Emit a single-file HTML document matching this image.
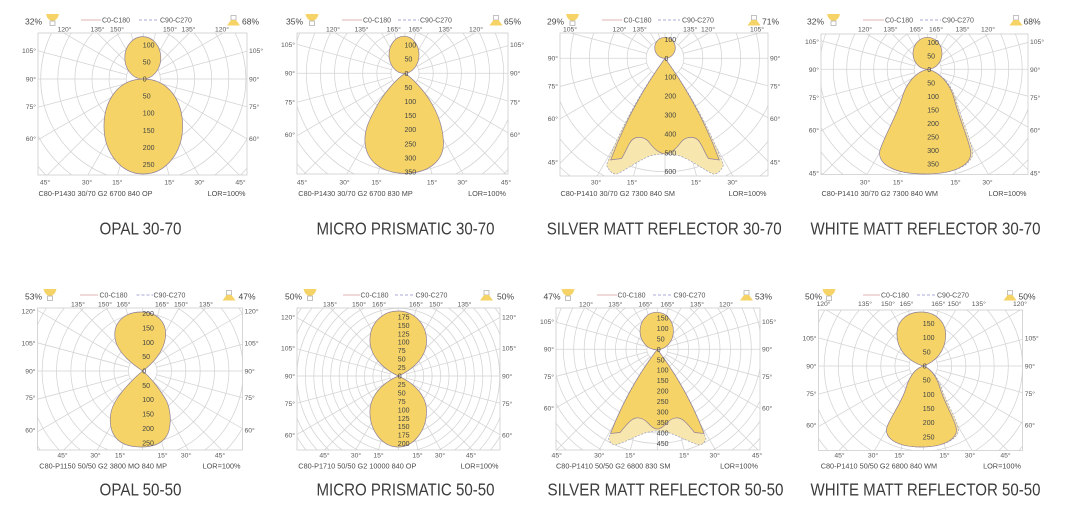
<!DOCTYPE html>
<html><head><meta charset="utf-8">
<style>
html,body{margin:0;padding:0;background:#fff;width:1069px;height:509px;overflow:hidden}
svg{display:block}
text{font-family:"Liberation Sans",Arial,sans-serif}
.k{font-size:6.8px;fill:#5a5a5a}
.e{text-anchor:end}
.m{text-anchor:middle}
.r{font-size:7px;fill:#444}
.c{font-size:7.3px;fill:#4a4a4a}
.g{font-size:7px;fill:#555}
.p{font-size:8.5px;fill:#444}
.ti{font-size:17.5px;fill:#3c3c3c;text-anchor:middle}
.L{fill:#f5d366;stroke:#8f7f9a;stroke-width:.7}
.P{fill:#f7e6ad;stroke:#8c93c2;stroke-width:.6;stroke-dasharray:2 1.5}
.bx{fill:none;stroke:#cdcdcd;stroke-width:.8}
.l1{stroke:#d49a9a;stroke-width:.8}
.l2{stroke:#8f90c8;stroke-width:.8;stroke-dasharray:3 2}
.ic{fill:#f5d366}
.sq{fill:#fff;stroke:#999;stroke-width:.6}
</style></head><body>
<svg width="1069" height="509" viewBox="0 0 1069 509" xmlns="http://www.w3.org/2000/svg">
<rect width="1069" height="509" fill="#fff"/>
<defs>
<g id="cr9" fill="none"><circle r="1"/><circle r="2"/><circle r="3"/><circle r="4"/><circle r="5"/><circle r="6"/><circle r="7"/><circle r="8"/><circle r="9"/></g>
<g id="cr13" fill="none"><use href="#cr9"/><circle r="10"/><circle r="11"/><circle r="12"/><circle r="13"/></g>
<g id="cr14" fill="none"><use href="#cr13"/><circle r="14"/></g>
<g id="cr16" fill="none"><use href="#cr14"/><circle r="15"/><circle r="16"/></g>
<g id="s20" fill="none">
<path d="M0,1V20M0,-1V-20"/><path d="M0,1V20M0,-1V-20" transform="rotate(15)"/><path d="M0,1V20M0,-1V-20" transform="rotate(30)"/><path d="M0,1V20M0,-1V-20" transform="rotate(45)"/><path d="M0,1V20M0,-1V-20" transform="rotate(60)"/><path d="M0,1V20M0,-1V-20" transform="rotate(75)"/><path d="M0,1V20M0,-1V-20" transform="rotate(90)"/><path d="M0,1V20M0,-1V-20" transform="rotate(105)"/><path d="M0,1V20M0,-1V-20" transform="rotate(120)"/><path d="M0,1V20M0,-1V-20" transform="rotate(135)"/><path d="M0,1V20M0,-1V-20" transform="rotate(150)"/><path d="M0,1V20M0,-1V-20" transform="rotate(165)"/>
</g>
<g id="s5" fill="none">
<path d="M0,1V9.2M0,-1V-9.2"/><path d="M0,1V9.2M0,-1V-9.2" transform="rotate(15)"/><path d="M0,1V9.2M0,-1V-9.2" transform="rotate(30)"/><path d="M0,1V9.2M0,-1V-9.2" transform="rotate(45)"/><path d="M0,1V9.2M0,-1V-9.2" transform="rotate(60)"/><path d="M0,1V9.2M0,-1V-9.2" transform="rotate(75)"/><path d="M0,1V9.2M0,-1V-9.2" transform="rotate(90)"/><path d="M0,1V9.2M0,-1V-9.2" transform="rotate(105)"/><path d="M0,1V9.2M0,-1V-9.2" transform="rotate(120)"/><path d="M0,1V9.2M0,-1V-9.2" transform="rotate(135)"/><path d="M0,1V9.2M0,-1V-9.2" transform="rotate(150)"/><path d="M0,1V9.2M0,-1V-9.2" transform="rotate(165)"/>
</g>
<g id="s6" fill="none">
<path d="M0,1V14.9M0,-1V-14.9"/><path d="M0,1V14.9M0,-1V-14.9" transform="rotate(15)"/><path d="M0,1V14.9M0,-1V-14.9" transform="rotate(30)"/><path d="M0,1V14.9M0,-1V-14.9" transform="rotate(45)"/><path d="M0,1V14.9M0,-1V-14.9" transform="rotate(60)"/><path d="M0,1V14.9M0,-1V-14.9" transform="rotate(75)"/><path d="M0,1V14.9M0,-1V-14.9" transform="rotate(90)"/><path d="M0,1V14.9M0,-1V-14.9" transform="rotate(105)"/><path d="M0,1V14.9M0,-1V-14.9" transform="rotate(120)"/><path d="M0,1V14.9M0,-1V-14.9" transform="rotate(135)"/><path d="M0,1V14.9M0,-1V-14.9" transform="rotate(150)"/><path d="M0,1V14.9M0,-1V-14.9" transform="rotate(165)"/>
</g>
<g id="s7" fill="none">
<path d="M0,1V13.8M0,-1V-13.8"/><path d="M0,1V13.8M0,-1V-13.8" transform="rotate(15)"/><path d="M0,1V13.8M0,-1V-13.8" transform="rotate(30)"/><path d="M0,1V13.8M0,-1V-13.8" transform="rotate(45)"/><path d="M0,1V13.8M0,-1V-13.8" transform="rotate(60)"/><path d="M0,1V13.8M0,-1V-13.8" transform="rotate(75)"/><path d="M0,1V13.8M0,-1V-13.8" transform="rotate(90)"/><path d="M0,1V13.8M0,-1V-13.8" transform="rotate(105)"/><path d="M0,1V13.8M0,-1V-13.8" transform="rotate(120)"/><path d="M0,1V13.8M0,-1V-13.8" transform="rotate(135)"/><path d="M0,1V13.8M0,-1V-13.8" transform="rotate(150)"/><path d="M0,1V13.8M0,-1V-13.8" transform="rotate(165)"/>
</g>
<g id="s8" fill="none">
<path d="M0,1V9.5M0,-1V-9.5"/><path d="M0,1V9.5M0,-1V-9.5" transform="rotate(15)"/><path d="M0,1V9.5M0,-1V-9.5" transform="rotate(30)"/><path d="M0,1V9.5M0,-1V-9.5" transform="rotate(45)"/><path d="M0,1V9.5M0,-1V-9.5" transform="rotate(60)"/><path d="M0,1V9.5M0,-1V-9.5" transform="rotate(75)"/><path d="M0,1V9.5M0,-1V-9.5" transform="rotate(90)"/><path d="M0,1V9.5M0,-1V-9.5" transform="rotate(105)"/><path d="M0,1V9.5M0,-1V-9.5" transform="rotate(120)"/><path d="M0,1V9.5M0,-1V-9.5" transform="rotate(135)"/><path d="M0,1V9.5M0,-1V-9.5" transform="rotate(150)"/><path d="M0,1V9.5M0,-1V-9.5" transform="rotate(165)"/>
</g>
<clipPath id="c1"><rect x="38" y="33" width="209" height="142"/></clipPath>
<clipPath id="c2"><rect x="297" y="33" width="211" height="141"/></clipPath>
<clipPath id="c3"><rect x="560" y="33" width="208" height="143"/></clipPath>
<clipPath id="c4"><rect x="821" y="34" width="207" height="140.5"/></clipPath>
<clipPath id="c5"><rect x="37.5" y="308" width="205" height="142"/></clipPath>
<clipPath id="c6"><rect x="297" y="308" width="203" height="142"/></clipPath>
<clipPath id="c7"><rect x="556" y="308" width="204" height="142"/></clipPath>
<clipPath id="c8"><rect x="818.5" y="310" width="204" height="140.5"/></clipPath>
</defs>

<!-- ================= PANEL 1 ================= -->
<g clip-path="url(#c1)" stroke="#d3d3d3" stroke-width="0.044" fill="none"><g transform="translate(143.3 79) scale(17.1)"><use href="#cr16"/><use href="#s20"/></g></g>
<rect class="bx" x="38" y="33" width="209" height="142"/>
<ellipse class="L" cx="142.8" cy="57.8" rx="18" ry="21.2"/>
<path class="L" d="M143.3,79 C118,79 104,101 104,126 C104,153 121,174 143.3,174 C165.6,174 182.6,153 182.6,126 C182.6,101 168.6,79 143.3,79 Z"/>
<g class="r">
<text x="142.8" y="47.3">100</text><text x="142.8" y="64.4">50</text><text x="142.8" y="81.5">0</text>
<text x="142.8" y="98.6">50</text><text x="142.8" y="115.7">100</text><text x="142.8" y="132.8">150</text><text x="142.8" y="149.9">200</text><text x="142.8" y="167">250</text>
</g>
<g class="k m">
<text x="64.5" y="31.3">120°</text><text x="97.5" y="31.3">135°</text><text x="117" y="31.3">150°</text><text x="170" y="31.3">150°</text><text x="188.5" y="31.3">135°</text><text x="222" y="31.3">120°</text>
<text x="45" y="184.6">45°</text><text x="87" y="184.6">30°</text><text x="117.3" y="184.6">15°</text><text x="169.5" y="184.6">15°</text><text x="199.5" y="184.6">30°</text><text x="240.5" y="184.6">45°</text>
</g>
<g class="k e">
<text x="36" y="53.1">105°</text><text x="36" y="81.4">90°</text><text x="36" y="109.2">75°</text><text x="36" y="141">60°</text>
</g>
<g class="k">
<text x="249" y="53.1">105°</text><text x="249" y="81.4">90°</text><text x="249" y="109.2">75°</text><text x="249" y="141">60°</text>
</g>
<text class="c" x="38.5" y="195.8">C80-P1430 30/70 G2 6700 840 OP</text>
<text class="c e" x="245.5" y="195.8">LOR=100%</text>
<text class="p" x="25" y="24.3">32%</text>
<g transform="translate(52.5 14)"><path class="ic" d="M-6.5,0 L6.5,0 Q5,6.5 0,7 Q-5,6.5 -6.5,0Z"/><rect class="sq" x="-2.5" y="7" width="5" height="4.5"/></g>
<line class="l1" x1="81" y1="20" x2="101" y2="20"/><text class="g" x="102" y="22.4">C0-C180</text>
<line class="l2" x1="139" y1="20" x2="159" y2="20"/><text class="g" x="160" y="22.4">C90-C270</text>
<g transform="translate(233.5 15.5)"><rect class="sq" x="-2.5" y="0" width="5" height="4.5"/><path class="ic" d="M-2.5,4.5 L2.5,4.5 L6.5,10 L-6.5,10Z"/></g>
<text class="p" x="242" y="24.3">68%</text>
<text class="ti" x="140.5" y="234.3" textLength="82" lengthAdjust="spacingAndGlyphs">OPAL 30-70</text>

<!-- ================= PANEL 2 ================= -->
<g clip-path="url(#c2)" stroke="#d3d3d3" stroke-width="0.053" fill="none"><g transform="translate(405 73.3) scale(14.1)"><use href="#cr16"/><use href="#s20"/></g></g>
<rect class="bx" x="297" y="33" width="211" height="141"/>
<ellipse class="L" cx="404" cy="54.8" rx="15" ry="18.6"/>
<path class="L" d="M405,73.3 C398,78 386,90 378,104 C370,118 364,130 365,142 C366,160 380,173 405,173.5 C430,173 444,160 443.5,142 C443,130 440,118 432,104 C424,90 412,78 405,73.3 Z"/>
<g class="r">
<text x="404.5" y="47.6">100</text><text x="404.5" y="61.7">50</text><text x="404.5" y="75.8">0</text>
<text x="404.5" y="89.9">50</text><text x="404.5" y="104">100</text><text x="404.5" y="118.1">150</text><text x="404.5" y="132.2">200</text><text x="404.5" y="146.3">250</text><text x="404.5" y="160.4">300</text><text x="404.5" y="174.5">350</text>
</g>
<g class="k m">
<text x="333" y="31.3">120°</text><text x="361.5" y="31.3">135°</text><text x="393.8" y="31.3">165°</text><text x="415.5" y="31.3">165°</text><text x="445.5" y="31.3">135°</text><text x="476" y="31.3">120°</text>
<text x="302" y="184.6">45°</text><text x="344.5" y="184.6">30°</text><text x="376.5" y="184.6">15°</text><text x="432" y="184.6">15°</text><text x="462.5" y="184.6">30°</text><text x="506" y="184.6">45°</text>
</g>
<g class="k e">
<text x="295" y="47">105°</text><text x="295" y="75.6">90°</text><text x="295" y="104.3">75°</text><text x="295" y="136.8">60°</text>
</g>
<g class="k">
<text x="510" y="47">105°</text><text x="510" y="75.6">90°</text><text x="510" y="104.3">75°</text><text x="510" y="136.8">60°</text>
</g>
<text class="c" x="298.3" y="195.8">C80-P1430 30/70 G2 6700 830 MP</text>
<text class="c e" x="506" y="195.8">LOR=100%</text>
<text class="p" x="286" y="24.3">35%</text>
<g transform="translate(312 14)"><path class="ic" d="M-6.5,0 L6.5,0 Q5,6.5 0,7 Q-5,6.5 -6.5,0Z"/><rect class="sq" x="-2.5" y="7" width="5" height="4.5"/></g>
<line class="l1" x1="342" y1="20" x2="362" y2="20"/><text class="g" x="363" y="22.4">C0-C180</text>
<line class="l2" x1="398" y1="20" x2="419" y2="20"/><text class="g" x="420" y="22.4">C90-C270</text>
<g transform="translate(496 15.5)"><rect class="sq" x="-2.5" y="0" width="5" height="4.5"/><path class="ic" d="M-2.5,4.5 L2.5,4.5 L6.5,10 L-6.5,10Z"/></g>
<text class="p" x="504" y="24.3">65%</text>
<text class="ti" x="405.5" y="234.3" textLength="178" lengthAdjust="spacingAndGlyphs">MICRO PRISMATIC 30-70</text>

<!-- ================= PANEL 3 ================= -->
<g clip-path="url(#c3)" stroke="#d3d3d3" stroke-width="0.04" fill="none"><g transform="translate(665 58.3) scale(18.9)"><use href="#cr16"/><use href="#s20"/></g></g>
<rect class="bx" x="560" y="33" width="208" height="143"/>
<path class="P" d="M665,58.3 Q628.5,108 606.5,165 C609,171 612.5,174.5 617,174 C625,170.5 640,159.5 650,156 C656,154.5 660,154 665,154 C670,154 674,154.5 680,156 C690,159.5 705,170.5 713,174 C717.5,174.5 721,171 723.5,165 Q701.5,108 665,58.3 Z"/>
<path class="L" d="M665,58.3 Q631,105 610.7,160 L621.5,158.5 C626,152 629,141 634,138.5 C638,136.5 644,137 648,141 C652,146 657,153 665,154 C673,153 678,146 682,141 C686,137 692,136.5 696,138.5 C701,141 704,152 708.5,158.5 L719.3,160 Q699,105 665,58.3 Z"/>
<ellipse class="L" cx="665" cy="47.8" rx="10.3" ry="10.5"/>
<g class="r">
<text x="664.5" y="41.9">100</text><text x="664.5" y="60.8">0</text>
<text x="664.5" y="79.7">100</text><text x="664.5" y="98.6">200</text><text x="664.5" y="117.5">300</text><text x="664.5" y="136.4">400</text><text x="664.5" y="155.3">500</text><text x="664.5" y="174.2">600</text>
</g>
<g class="k m">
<text x="570" y="31.3">105°</text><text x="619.5" y="31.3">120°</text><text x="639.7" y="31.3">135°</text><text x="690.2" y="31.3">135°</text><text x="708" y="31.3">120°</text><text x="757" y="31.3">105°</text>
<text x="596" y="184.6">30°</text><text x="632" y="184.6">15°</text><text x="696" y="184.6">15°</text><text x="732.5" y="184.6">30°</text>
</g>
<g class="k e">
<text x="558" y="60.3">90°</text><text x="558" y="88.3">75°</text><text x="558" y="120.9">60°</text><text x="558" y="164.3">45°</text>
</g>
<g class="k">
<text x="770" y="60.3">90°</text><text x="770" y="88.3">75°</text><text x="770" y="120.9">60°</text><text x="770" y="164.3">45°</text>
</g>
<text class="c" x="560.5" y="195.8">C80-P1410 30/70 G2 7300 840 SM</text>
<text class="c e" x="766.5" y="195.8">LOR=100%</text>
<text class="p" x="547" y="24.3">29%</text>
<g transform="translate(572.5 14)"><path class="ic" d="M-6.5,0 L6.5,0 Q5,6.5 0,7 Q-5,6.5 -6.5,0Z"/><rect class="sq" x="-2.5" y="7" width="5" height="4.5"/></g>
<line class="l1" x1="602" y1="20" x2="622" y2="20"/><text class="g" x="623.5" y="22.4">C0-C180</text>
<line class="l2" x1="658" y1="20" x2="680" y2="20"/><text class="g" x="682" y="22.4">C90-C270</text>
<g transform="translate(754 15.5)"><rect class="sq" x="-2.5" y="0" width="5" height="4.5"/><path class="ic" d="M-2.5,4.5 L2.5,4.5 L6.5,10 L-6.5,10Z"/></g>
<text class="p" x="762" y="24.3">71%</text>
<text class="ti" x="664.2" y="234.3" textLength="235" lengthAdjust="spacingAndGlyphs">SILVER MATT REFLECTOR 30-70</text>

<!-- ================= PANEL 4 ================= -->
<g clip-path="url(#c4)" stroke="#d3d3d3" stroke-width="0.056" fill="none"><g transform="translate(927.7 69.3) scale(13.5)"><use href="#cr16"/><use href="#s20"/></g></g>
<rect class="bx" x="821" y="34" width="207" height="140.5"/>
<ellipse class="L" cx="927.5" cy="53.3" rx="14.5" ry="16"/>
<path class="P" d="M927.7,69.3 C915,72 906,84 902,98 C897,115 885,135 880,150 C877,162 890,174 925,174 C960,174 975,162 972.5,150 C969,135 960,115 955.5,98 C951,84 940,72 927.7,69.3 Z"/>
<path class="L" d="M927.7,69.3 C915,72 906,84 902,98 C897,115 885,135 880,150 C877,162 890,174 925,174 C960,174 973,162 970.5,150 C967,135 958,115 954,98 C950,84 940,72 927.7,69.3 Z"/>
<g class="r">
<text x="927.2" y="44.8">100</text><text x="927.2" y="58.3">50</text><text x="927.2" y="71.8">0</text>
<text x="927.2" y="85.3">50</text><text x="927.2" y="98.8">100</text><text x="927.2" y="112.3">150</text><text x="927.2" y="125.8">200</text><text x="927.2" y="139.3">250</text><text x="927.2" y="152.8">300</text><text x="927.2" y="166.3">350</text>
</g>
<g class="k m">
<text x="865" y="31.3">120°</text><text x="890.5" y="31.3">135°</text><text x="916.5" y="31.3">165°</text><text x="936" y="31.3">165°</text><text x="962.5" y="31.3">135°</text><text x="988" y="31.3">120°</text>
<text x="865" y="184.6">30°</text><text x="898" y="184.6">15°</text><text x="955.5" y="184.6">15°</text><text x="987.5" y="184.6">30°</text>
</g>
<g class="k e">
<text x="819" y="43.8">105°</text><text x="819" y="71.8">90°</text><text x="819" y="99.8">75°</text><text x="819" y="132.3">60°</text><text x="819" y="175.6">45°</text>
</g>
<g class="k">
<text x="1030" y="43.8">105°</text><text x="1030" y="71.8">90°</text><text x="1030" y="99.8">75°</text><text x="1030" y="132.3">60°</text><text x="1030" y="175.6">45°</text>
</g>
<text class="c" x="821.5" y="195.8">C80-P1410 30/70 G2 7300 840 WM</text>
<text class="c e" x="1026.5" y="195.8">LOR=100%</text>
<text class="p" x="807" y="24.3">32%</text>
<g transform="translate(833.5 14)"><path class="ic" d="M-6.5,0 L6.5,0 Q5,6.5 0,7 Q-5,6.5 -6.5,0Z"/><rect class="sq" x="-2.5" y="7" width="5" height="4.5"/></g>
<line class="l1" x1="863" y1="20" x2="884" y2="20"/><text class="g" x="885" y="22.4">C0-C180</text>
<line class="l2" x1="920" y1="20" x2="941" y2="20"/><text class="g" x="942" y="22.4">C90-C270</text>
<g transform="translate(1016 15.5)"><rect class="sq" x="-2.5" y="0" width="5" height="4.5"/><path class="ic" d="M-2.5,4.5 L2.5,4.5 L6.5,10 L-6.5,10Z"/></g>
<text class="p" x="1023.5" y="24.3">68%</text>
<text class="ti" x="925.5" y="234.3" textLength="230" lengthAdjust="spacingAndGlyphs">WHITE MATT REFLECTOR 30-70</text>

<!-- ================= PANEL 5 ================= -->
<g clip-path="url(#c5)" stroke="#d3d3d3" stroke-width="0.052" fill="none"><g transform="translate(142.7 371) scale(14.37)"><use href="#cr9"/><use href="#s5"/></g></g>
<rect class="bx" x="37.5" y="308" width="205" height="142"/>
<path class="L" d="M142.7,371 C132,364 117,352 115,338 C113,322 125,312 141,312 C157,312 167,322 165.5,337 C164,352 152,364 142.7,371 Z"/>
<path class="L" d="M142.7,371 C135,377 122,390 115,402 C108,414 109,430 116,438 C122,445 132,447 141,447 C152,447 161,444 166,437 C171,430 172,414 167,402 C161,390 150,377 142.7,371 Z"/>
<g class="r">
<text x="142.2" y="316">200</text><text x="142.2" y="330.4">150</text><text x="142.2" y="344.8">100</text><text x="142.2" y="359.1">50</text><text x="142.2" y="373.5">0</text>
<text x="142.2" y="387.9">50</text><text x="142.2" y="402.2">100</text><text x="142.2" y="416.6">150</text><text x="142.2" y="431">200</text><text x="142.2" y="445.4">250</text>
</g>
<g class="k m">
<text x="78" y="306.3">135°</text><text x="105" y="306.3">150°</text><text x="123.5" y="306.3">165°</text><text x="162" y="306.3">165°</text><text x="181" y="306.3">150°</text><text x="206" y="306.3">135°</text>
<text x="62.5" y="457.5">45°</text><text x="95.5" y="457.5">30°</text><text x="120" y="457.5">15°</text><text x="162.5" y="457.5">15°</text><text x="186" y="457.5">30°</text><text x="220" y="457.5">45°</text>
</g>
<g class="k e">
<text x="35.5" y="313.3">120°</text><text x="35.5" y="345.6">105°</text><text x="35.5" y="373.3">90°</text><text x="35.5" y="400">75°</text><text x="35.5" y="432.3">60°</text>
</g>
<g class="k">
<text x="244.5" y="313.3">120°</text><text x="244.5" y="345.6">105°</text><text x="244.5" y="373.3">90°</text><text x="244.5" y="400">75°</text><text x="244.5" y="432.3">60°</text>
</g>
<text class="c" x="39.3" y="468.5">C80-P1150 50/50 G2 3800 MO 840 MP</text>
<text class="c e" x="240.5" y="468.5">LOR=100%</text>
<text class="p" x="25" y="299.3">53%</text>
<g transform="translate(50 289)"><path class="ic" d="M-6.5,0 L6.5,0 Q5,6.5 0,7 Q-5,6.5 -6.5,0Z"/><rect class="sq" x="-2.5" y="7" width="5" height="4.5"/></g>
<line class="l1" x1="80" y1="295" x2="98" y2="295"/><text class="g" x="99.5" y="297.4">C0-C180</text>
<line class="l2" x1="136.5" y1="295" x2="153" y2="295"/><text class="g" x="153.5" y="297.4">C90-C270</text>
<g transform="translate(229 290.5)"><rect class="sq" x="-2.5" y="0" width="5" height="4.5"/><path class="ic" d="M-2.5,4.5 L2.5,4.5 L6.5,10 L-6.5,10Z"/></g>
<text class="p" x="238.5" y="299.3">47%</text>
<text class="ti" x="140.5" y="495.3" textLength="82" lengthAdjust="spacingAndGlyphs">OPAL 50-50</text>

<!-- ================= PANEL 6 ================= -->
<g clip-path="url(#c6)" stroke="#d3d3d3" stroke-width="0.089" fill="none"><g transform="translate(398.3 376) scale(8.45)"><use href="#cr14"/><use href="#s6"/></g></g>
<rect class="bx" x="297" y="308" width="203" height="142"/>
<path class="L" d="M398.3,376 C385,370 371,358 370,342 C369,324 382,311 398,311 C414,311 427,324 426.5,342 C426,358 412,370 398.3,376 Z"/>
<path class="L" d="M398.3,376 C384,382 371,394 370,410 C369,430 382,447 398.3,447 C414,447 427,430 426.5,410 C426,394 412,382 398.3,376 Z"/>
<g class="r">
<text x="397.8" y="319.35">175</text><text x="397.8" y="327.8">150</text><text x="397.8" y="336.25">125</text><text x="397.8" y="344.7">100</text><text x="397.8" y="353.15">75</text><text x="397.8" y="361.6">50</text><text x="397.8" y="370.05">25</text><text x="397.8" y="378.5">0</text>
<text x="397.8" y="386.95">25</text><text x="397.8" y="395.4">50</text><text x="397.8" y="403.85">75</text><text x="397.8" y="412.3">100</text><text x="397.8" y="420.75">125</text><text x="397.8" y="429.2">150</text><text x="397.8" y="437.65">175</text><text x="397.8" y="446.1">200</text>
</g>
<g class="k m">
<text x="330" y="306.3">135°</text><text x="359" y="306.3">150°</text><text x="379" y="306.3">165°</text><text x="416" y="306.3">165°</text><text x="436" y="306.3">150°</text><text x="464.5" y="306.3">135°</text>
<text x="324.5" y="457.5">45°</text><text x="356" y="457.5">30°</text><text x="378.5" y="457.5">15°</text><text x="417.5" y="457.5">15°</text><text x="440" y="457.5">30°</text><text x="471" y="457.5">45°</text>
</g>
<g class="k e">
<text x="295" y="319.6">120°</text><text x="295" y="350.6">105°</text><text x="295" y="378.3">90°</text><text x="295" y="405.8">75°</text><text x="295" y="437.3">60°</text>
</g>
<g class="k">
<text x="502" y="319.6">120°</text><text x="502" y="350.6">105°</text><text x="502" y="378.3">90°</text><text x="502" y="405.8">75°</text><text x="502" y="437.3">60°</text>
</g>
<text class="c" x="298.3" y="468.5">C80-P1710 50/50 G2 10000 840 OP</text>
<text class="c e" x="498.5" y="468.5">LOR=100%</text>
<text class="p" x="285" y="299.3">50%</text>
<g transform="translate(310 289)"><path class="ic" d="M-6.5,0 L6.5,0 Q5,6.5 0,7 Q-5,6.5 -6.5,0Z"/><rect class="sq" x="-2.5" y="7" width="5" height="4.5"/></g>
<line class="l1" x1="343" y1="295" x2="360" y2="295"/><text class="g" x="360.5" y="297.4">C0-C180</text>
<line class="l2" x1="395" y1="295" x2="415" y2="295"/><text class="g" x="415.5" y="297.4">C90-C270</text>
<g transform="translate(486.5 290.5)"><rect class="sq" x="-2.5" y="0" width="5" height="4.5"/><path class="ic" d="M-2.5,4.5 L2.5,4.5 L6.5,10 L-6.5,10Z"/></g>
<text class="p" x="497" y="299.3">50%</text>
<text class="ti" x="405.5" y="495.3" textLength="178" lengthAdjust="spacingAndGlyphs">MICRO PRISMATIC 50-50</text>

<!-- ================= PANEL 7 ================= -->
<g clip-path="url(#c7)" stroke="#d3d3d3" stroke-width="0.072" fill="none"><g transform="translate(657.3 349.3) scale(10.45)"><use href="#cr13"/><use href="#s7"/></g></g>
<rect class="bx" x="556" y="308" width="204" height="142"/>
<path class="P" d="M657.3,349.3 Q626,390 608.5,439 C610,442 612,445 615.5,445 C622,443.5 632,438 641,434.5 C647,432 652,431 657.3,431 C662.6,431 667.6,432 673.6,434.5 C682.6,438 692.6,443.5 699.1,445 C702.6,445 704.6,442 706.1,439 Q688.6,390 657.3,349.3 Z"/>
<path class="L" d="M657.3,349.3 Q628,388 610.5,433.5 L620,432.5 C624,428 630,419 636,418 C641,417 645,420 648,423 C651,426.5 654,429 657.3,429 C660.6,429 663.6,426.5 666.6,423 C669.6,420 673.6,417 678.6,418 C684.6,419 690.6,428 694.6,432.5 L704.1,433.5 Q686.6,388 657.3,349.3 Z"/>
<ellipse class="L" cx="656.7" cy="331" rx="16.7" ry="18.8"/>
<g class="r">
<text x="656.8" y="320.45">150</text><text x="656.8" y="330.9">100</text><text x="656.8" y="341.35">50</text><text x="656.8" y="351.8">0</text>
<text x="656.8" y="362.25">50</text><text x="656.8" y="372.7">100</text><text x="656.8" y="383.15">150</text><text x="656.8" y="393.6">200</text><text x="656.8" y="404.05">250</text><text x="656.8" y="414.5">300</text><text x="656.8" y="424.95">350</text><text x="656.8" y="435.4">400</text><text x="656.8" y="445.85">450</text>
</g>
<g class="k m">
<text x="586" y="306.3">120°</text><text x="615.3" y="306.3">135°</text><text x="645.5" y="306.3">165°</text><text x="667.5" y="306.3">165°</text><text x="697" y="306.3">135°</text><text x="726" y="306.3">120°</text>
<text x="556.7" y="457.5">45°</text><text x="599.3" y="457.5">30°</text><text x="630.2" y="457.5">15°</text><text x="684.2" y="457.5">15°</text><text x="714.7" y="457.5">30°</text><text x="757" y="457.5">45°</text>
</g>
<g class="k e">
<text x="554" y="324">105°</text><text x="554" y="351.6">90°</text><text x="554" y="379">75°</text><text x="554" y="410.6">60°</text>
</g>
<g class="k">
<text x="762" y="324">105°</text><text x="762" y="351.6">90°</text><text x="762" y="379">75°</text><text x="762" y="410.6">60°</text>
</g>
<text class="c" x="556" y="468.5">C80-P1410 50/50 G2 6800 830 SM</text>
<text class="c e" x="758" y="468.5">LOR=100%</text>
<text class="p" x="543.5" y="299.3">47%</text>
<g transform="translate(568 289)"><path class="ic" d="M-6.5,0 L6.5,0 Q5,6.5 0,7 Q-5,6.5 -6.5,0Z"/><rect class="sq" x="-2.5" y="7" width="5" height="4.5"/></g>
<line class="l1" x1="597" y1="295" x2="617" y2="295"/><text class="g" x="617.5" y="297.4">C0-C180</text>
<line class="l2" x1="653" y1="295" x2="673" y2="295"/><text class="g" x="673.5" y="297.4">C90-C270</text>
<g transform="translate(746.5 290.5)"><rect class="sq" x="-2.5" y="0" width="5" height="4.5"/><path class="ic" d="M-2.5,4.5 L2.5,4.5 L6.5,10 L-6.5,10Z"/></g>
<text class="p" x="755" y="299.3">53%</text>
<text class="ti" x="665.5" y="495.3" textLength="236" lengthAdjust="spacingAndGlyphs">SILVER MATT REFLECTOR 50-50</text>

<!-- ================= PANEL 8 ================= -->
<g clip-path="url(#c8)" stroke="#d3d3d3" stroke-width="0.053" fill="none"><g transform="translate(923.3 366) scale(14.17)"><use href="#cr9"/><use href="#s8"/></g></g>
<rect class="bx" x="818.5" y="310" width="204" height="140.5"/>
<path class="L" d="M923.3,366 C910,362 898,352 897,336 C896,321 907,312 921,312 C936,312 946,322 945.7,336 C945,352 935,362 923.3,366 Z"/>
<path class="P" d="M923.3,366 C914,369 909,378 906,388 C902,402 891,416 887,427 C884,437 895,447 921,447 C947,447 961,437 958,427 C955,416 946,402 941.5,388 C938,378 932,369 923.3,366 Z"/>
<path class="L" d="M923.3,366 C914,369 909,378 906,388 C902,402 891,416 887,427 C884,437 895,447 921,447 C947,447 959,437 956,427 C953,416 944,402 940,388 C937,378 932,369 923.3,366 Z"/>
<g class="r">
<text x="922.8" y="326">150</text><text x="922.8" y="340.2">100</text><text x="922.8" y="354.3">50</text><text x="922.8" y="368.5">0</text>
<text x="922.8" y="382.7">50</text><text x="922.8" y="396.8">100</text><text x="922.8" y="411">150</text><text x="922.8" y="425.2">200</text><text x="922.8" y="439.4">250</text>
</g>
<g class="k m">
<text x="823.5" y="306">120°</text><text x="865" y="306">135°</text><text x="888" y="306">150°</text><text x="906.5" y="306">165°</text><text x="938.3" y="306">165°</text><text x="954.5" y="306">150°</text><text x="978.8" y="306">135°</text><text x="1020" y="306">120°</text>
<text x="839.5" y="457.5">45°</text><text x="873" y="457.5">30°</text><text x="899.5" y="457.5">15°</text><text x="944.5" y="457.5">15°</text><text x="970" y="457.5">30°</text><text x="1005.5" y="457.5">45°</text>
</g>
<g class="k e">
<text x="816.5" y="340.6">105°</text><text x="816.5" y="368.3">90°</text><text x="816.5" y="395.8">75°</text><text x="816.5" y="427.3">60°</text>
</g>
<g class="k">
<text x="1024.7" y="340.6">105°</text><text x="1024.7" y="368.3">90°</text><text x="1024.7" y="395.8">75°</text><text x="1024.7" y="427.3">60°</text>
</g>
<text class="c" x="820.7" y="468.5">C80-P1410 50/50 G2 6800 840 WM</text>
<text class="c e" x="1021" y="468.5">LOR=100%</text>
<text class="p" x="805" y="299.3">50%</text>
<g transform="translate(829 289)"><path class="ic" d="M-6.5,0 L6.5,0 Q5,6.5 0,7 Q-5,6.5 -6.5,0Z"/><rect class="sq" x="-2.5" y="7" width="5" height="4.5"/></g>
<line class="l1" x1="863" y1="295" x2="880" y2="295"/><text class="g" x="881" y="297.4">C0-C180</text>
<line class="l2" x1="917" y1="295" x2="936" y2="295"/><text class="g" x="937" y="297.4">C90-C270</text>
<g transform="translate(1010 290.5)"><rect class="sq" x="-2.5" y="0" width="5" height="4.5"/><path class="ic" d="M-2.5,4.5 L2.5,4.5 L6.5,10 L-6.5,10Z"/></g>
<text class="p" x="1018.5" y="299.3">50%</text>
<text class="ti" x="925.5" y="495.3" textLength="230" lengthAdjust="spacingAndGlyphs">WHITE MATT REFLECTOR 50-50</text>
</svg>
</body></html>
